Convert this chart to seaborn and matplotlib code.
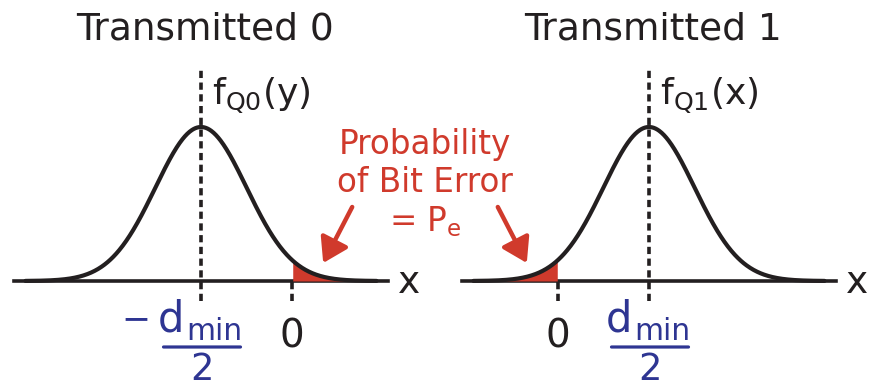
import numpy as np
import pandas as pd
import matplotlib
matplotlib.use("Agg")
import matplotlib.pyplot as plt
import seaborn as sns

# ---- data ----
means = [-2.0, 2.0]            # -dmin/2 and +dmin/2 (in units of sigma)
sigma = 1.0
threshold = 0.0
titles = ["Transmitted 0", "Transmitted 1"]
pdf_labels = [r"f$_\mathregular{Q0}$(y)", r"f$_\mathregular{Q1}$(x)"]
mean_signs = ["\u2212", ""]
mean_num = "d"
mean_num_sub = "min"
mean_den = "2"
threshold_label = "0"
axis_label = "x"
error_text = "Probability\nof Bit Error\n= P$_\\mathregular{e}$"
error_side = ["right", "left"]   # which tail is the error region

# ---- style ----
sns.set_theme(style="white")
plt.rcParams["font.family"] = ["DejaVu Sans"]
plt.rcParams["mathtext.fontset"] = "dejavusans"

BLACK = "#231f20"
RED = "#d03a2c"
BLUE = "#2e3592"

W, H = 878, 389
fig = plt.figure(figsize=(W / 100, H / 100), dpi=100)

px_per_sigma = 45.6
px_per_dens = 386.0
half_axis = 4.1       # axis line half-length (sigma)
half_curve = 3.85     # curve half-length (sigma)
centers_px = [201, 649]
baseline_px = 281


def dy(px):
    """vertical pixel offset from the baseline -> density units"""
    return px / px_per_dens


def dx(px):
    """horizontal pixel offset -> sigma units"""
    return px / px_per_sigma * sigma


for i, mu in enumerate(means):
    cx = centers_px[i]
    left_px = cx - half_axis * px_per_sigma
    width_px = 2 * half_axis * px_per_sigma
    ax = fig.add_axes([left_px / W, 0, width_px / W, 1])
    ax.set_xlim(mu - half_axis * sigma, mu + half_axis * sigma)
    ax.set_ylim(-(H - baseline_px) / px_per_dens, baseline_px / px_per_dens)
    ax.set_facecolor("none")
    for s in ["left", "right", "top"]:
        ax.spines[s].set_visible(False)
    ax.spines["bottom"].set_position(("data", 0))
    ax.spines["bottom"].set_linewidth(2.6)
    ax.spines["bottom"].set_color(BLACK)
    ax.spines["bottom"].set_zorder(1)
    ax.set_xticks([])
    ax.set_yticks([])

    xs = np.linspace(mu - half_curve * sigma, mu + half_curve * sigma, 600)
    ys = np.exp(-0.5 * ((xs - mu) / sigma) ** 2) / (sigma * np.sqrt(2 * np.pi))
    df = pd.DataFrame({"x": xs, "y": ys})

    # shaded error region
    if error_side[i] == "right":
        m = df["x"] >= threshold
    else:
        m = df["x"] <= threshold
    ax.fill_between(df["x"][m], 0, df["y"][m], color=RED, lw=0, zorder=2)

    sns.lineplot(data=df, x="x", y="y", ax=ax, color=BLACK, lw=3.0,
                 zorder=3, estimator=None, sort=False)
    ax.set_xlabel("")
    ax.set_ylabel("")

    # dashed mean line and threshold tick
    dash = (0, (2.0, 1.25))
    ax.vlines(mu, dy(-20), dy(baseline_px - 70), colors=BLACK, lw=2.6,
              linestyles=dash, clip_on=False, zorder=4)
    ax.vlines(threshold, dy(-20), 0, colors=BLACK, lw=2.6,
              linestyles=dash, clip_on=False, zorder=4)

    # texts
    ax.text(mu + dx(4), dy(baseline_px - 39), titles[i], ha="center",
            va="baseline", fontsize=27, color=BLACK, clip_on=False)
    ax.text(mu + dx(11), dy(baseline_px - 104), pdf_labels[i],
            ha="left", va="baseline", fontsize=26, color=BLACK, clip_on=False)
    ax.text(threshold, dy(-36), threshold_label, ha="center",
            va="top", fontsize=28, color=BLACK, clip_on=False)
    ax.text(mu + dx(208), dy(-12), axis_label, ha="center",
            va="baseline", fontsize=27, color=BLACK, clip_on=False)

    # -dmin/2 fraction label
    ax.text(mu - dx(17), dy(-51), mean_num, ha="right", va="baseline",
            fontsize=30, color=BLUE, clip_on=False)
    ax.text(mu - dx(15), dy(-59), mean_num_sub, ha="left", va="baseline",
            fontsize=21.5, color=BLUE, clip_on=False)
    ax.annotate("", xy=(mu + dx(39.5), dy(-66)), xytext=(mu - dx(37.5), dy(-66)),
                arrowprops=dict(arrowstyle="-", lw=2.3, color=BLUE,
                                shrinkA=0, shrinkB=0),
                annotation_clip=False)
    ax.text(mu + dx(1), dy(-99), mean_den, ha="center", va="baseline",
            fontsize=26.5, color=BLUE, clip_on=False)
    if mean_signs[i]:
        ax.text(mu - dx(65), dy(-38), mean_signs[i],
                ha="center", va="center", fontsize=25, color=BLUE,
                clip_on=False)

    # arrow pointing at the error region
    sgn = 1 if error_side[i] == "right" else -1
    ax.annotate("", xy=(threshold + sgn * dx(31), dy(18)),
                xytext=(threshold + sgn * dx(60), dy(74)),
                arrowprops=dict(arrowstyle="-|>,head_length=0.52,head_width=0.33",
                                mutation_scale=28, lw=3.2, color=RED,
                                shrinkA=0, shrinkB=0),
                annotation_clip=False, zorder=5)

fig.text(425 / W, 1 - 128 / H, error_text, ha="center", va="top",
         fontsize=23.5, color=RED, linespacing=1.2)

fig.savefig("out.png", dpi=100)
